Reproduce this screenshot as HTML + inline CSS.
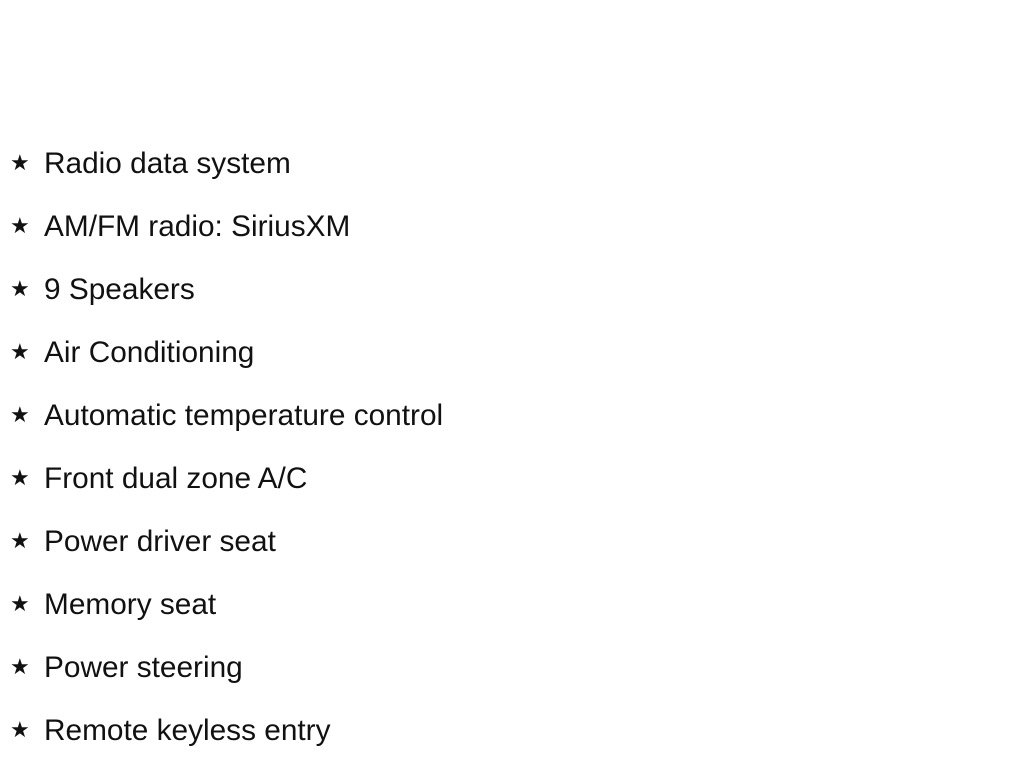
<!DOCTYPE html>
<html><head><style>
body{margin:0;width:1024px;height:768px;background:#fff;font-family:"Liberation Sans",sans-serif;color:#111;position:relative;overflow:hidden}
.l{position:absolute;left:0;height:40px;line-height:40px;font-size:29.8px;white-space:nowrap}
.s{position:absolute;left:10px;font-size:22px;top:-1px}
.t{position:absolute;left:44px;top:0}
</style></head><body>
<div class="l" style="top:144px"><span class="s">★</span><span class="t">Radio data system</span></div>
<div class="l" style="top:207px"><span class="s">★</span><span class="t">AM/FM radio: SiriusXM</span></div>
<div class="l" style="top:270px"><span class="s">★</span><span class="t">9 Speakers</span></div>
<div class="l" style="top:333px"><span class="s">★</span><span class="t">Air Conditioning</span></div>
<div class="l" style="top:396px"><span class="s">★</span><span class="t">Automatic temperature control</span></div>
<div class="l" style="top:459px"><span class="s">★</span><span class="t">Front dual zone A/C</span></div>
<div class="l" style="top:522px"><span class="s">★</span><span class="t">Power driver seat</span></div>
<div class="l" style="top:585px"><span class="s">★</span><span class="t">Memory seat</span></div>
<div class="l" style="top:648px"><span class="s">★</span><span class="t">Power steering</span></div>
<div class="l" style="top:711px"><span class="s">★</span><span class="t">Remote keyless entry</span></div>
</body></html>
